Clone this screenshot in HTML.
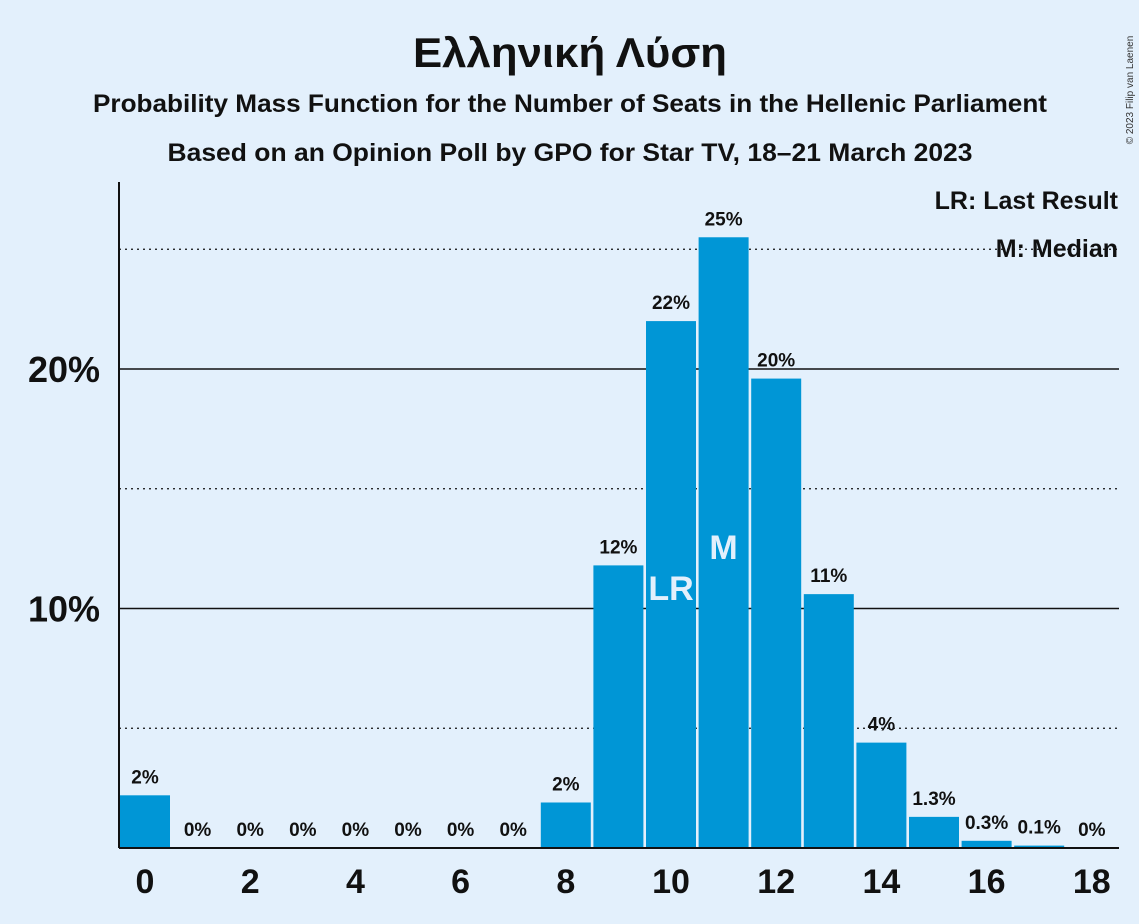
<!DOCTYPE html>
<html><head><meta charset="utf-8"><style>
body{margin:0;background:#e3f0fc;}
svg{display:block;font-family:"Liberation Sans",sans-serif;}
</style></head><body>
<svg id="c" width="1139" height="924">
<rect width="1139" height="924" fill="#e3f0fc"/>
<text x="570" y="67" text-anchor="middle" font-size="42" font-weight="bold" fill="#111" textLength="314" lengthAdjust="spacingAndGlyphs">Ελληνική Λύση</text>
<text x="570" y="112" text-anchor="middle" font-size="25" font-weight="bold" fill="#111" textLength="954" lengthAdjust="spacingAndGlyphs">Probability Mass Function for the Number of Seats in the Hellenic Parliament</text>
<text x="570" y="161" text-anchor="middle" font-size="25" font-weight="bold" fill="#111" textLength="805" lengthAdjust="spacingAndGlyphs">Based on an Opinion Poll by GPO for Star TV, 18–21 March 2023</text>
<text x="1133" y="90" font-size="10" fill="#333" transform="rotate(-90 1133 90)" text-anchor="middle">© 2023 Filip van Laenen</text>
<g id="grid"></g>
<g id="bars"></g>
<line x1="119" y1="182" x2="119" y2="848" stroke="#111" stroke-width="2"/>
<line x1="119" y1="848" x2="1119" y2="848" stroke="#111" stroke-width="2"/>
<text x="1118" y="209" text-anchor="end" font-size="25" font-weight="bold" fill="#111">LR: Last Result</text>
<text x="1118" y="257" text-anchor="end" font-size="25" font-weight="bold" fill="#111">M: Median</text>
</svg>
<script>
const categories=[0,1,2,3,4,5,6,7,8,9,10,11,12,13,14,15,16,17,18];
const values=[2.2,0,0,0,0,0,0,0,1.9,11.8,22.0,25.5,19.6,10.6,4.4,1.3,0.3,0.1,0];
const labels=["2%","0%","0%","0%","0%","0%","0%","0%","2%","12%","22%","25%","20%","11%","4%","1.3%","0.3%","0.1%","0%"];
const xTicks=[0,2,4,6,8,10,12,14,16,18];
const gridVals=[5,10,15,20,25];
const yTickLabels=[10,20];
const lastResult=10, median=11;
const NS="http://www.w3.org/2000/svg";
const y=v=>848-v*23.95;
const x=c=>145+c*52.6;
function mk(t,a,p){const e=document.createElementNS(NS,t);for(const k in a)e.setAttribute(k,a[k]);p.appendChild(e);return e;}
const g=document.getElementById('grid'),b=document.getElementById('bars'),svg=document.getElementById('c');
gridVals.forEach(v=>{const solid=v%10===0;
const l=mk('line',{x1:119,x2:1119,y1:y(v),y2:y(v),stroke:'#111','stroke-width':solid?1.5:1.2,'stroke-dasharray':solid?'none':'2,4'},g);

});
yTickLabels.forEach(v=>{const t=mk('text',{x:100,y:y(v)+13,'text-anchor':'end','font-size':36,'font-weight':'bold',fill:'#111'},svg);t.textContent=v+'%';

});
categories.forEach((c,i)=>{const v=values[i];
const r=mk('rect',{x:x(c)-25,y:y(v),width:50,height:848-y(v),fill:'#0096d6'},b);


const t=mk('text',{x:x(c),y:y(v)-12,'text-anchor':'middle','font-size':19,'font-weight':'bold',fill:'#111'},b);t.textContent=labels[i];


if(c===lastResult||c===median){const m=mk('text',{x:x(c),y:c===lastResult?600:559,'text-anchor':'middle','font-size':34,'font-weight':'bold',fill:'#e3f0fc'},b);m.textContent=c===lastResult?'LR':'M';

}
});
xTicks.forEach(c=>{const t=mk('text',{x:x(c),y:893,'text-anchor':'middle','font-size':34,'font-weight':'bold',fill:'#111'},svg);t.textContent=c;

});
</script>
</body></html>
